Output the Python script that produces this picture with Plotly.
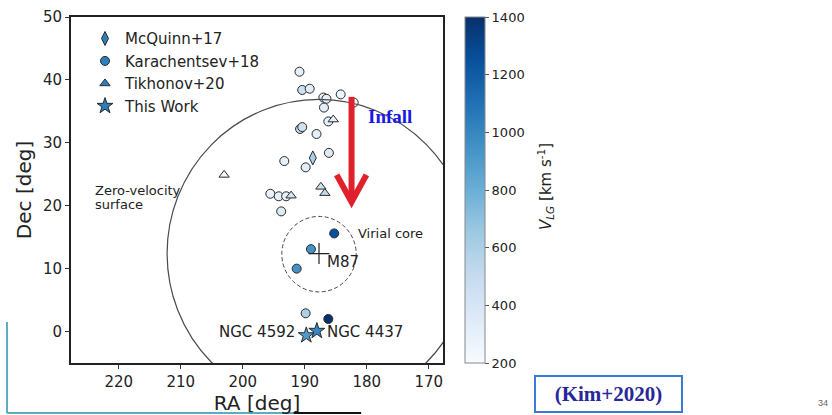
import plotly.graph_objects as go
import plotly.colors as pc

# ---------------- data ----------------
# Karachentsev+18 (circles)
kar_ra  = [190.85, 190.4, 189.2, 187.0, 186.5, 184.2, 182.1, 186.9, 186.2, 190.75, 190.4,
           188.1, 186.1, 193.3, 189.85, 195.55, 194.2, 193.0, 193.8, 185.25, 189.0, 191.3,
           189.85, 186.2]
kar_dec = [41.3, 38.4, 38.6, 37.2, 37.0, 37.7, 36.4, 35.6, 33.4, 32.2, 32.5,
           31.4, 28.4, 27.1, 26.1, 21.9, 21.5, 21.5, 19.1, 15.6, 13.1, 10.0,
           2.9, 2.0]
kar_v   = [300, 450, 330, 300, 300, 260, 260, 320, 300, 500, 450,
           300, 350, 300, 340, 280, 300, 300, 350, 1250, 950, 950,
           600, 1400]

# McQuinn+17 (thin diamonds)
mcq_ra  = [188.7]
mcq_dec = [27.6]
mcq_v   = [600]

# Tikhonov+20 (triangles)
tik_ra  = [185.4, 203.0, 192.2, 187.4, 186.75]
tik_dec = [33.7, 24.9, 21.6, 23.0, 22.0]
tik_v   = [300, 240, 420, 450, 520]

# This Work (stars)
tw_names = ["NGC 4592", "NGC 4437"]
tw_ra    = [189.75, 188.05]
tw_dec   = [-0.6, 0.1]
tw_v     = [900, 1000]

# M87 centre and radii (deg)
m87_ra, m87_dec = 187.7, 12.4
r_zero_vel = 24.5
r_virial = 6.0

# Infall arrow (RA, Dec)
arrow_shaft_ra = [182.45, 182.45]
arrow_shaft_dec = [37.3, 21.0]
arrow_head_ra = [184.85, 182.45, 180.05]
arrow_head_dec = [24.9, 20.6, 24.9]

x_ticks = [220, 210, 200, 190, 180, 170]
y_ticks = [0, 10, 20, 30, 40, 50]
cbar_ticks = [200, 400, 600, 800, 1000, 1200, 1400]

# ---------------- figure ----------------
FONT = "DejaVu Sans"
blues = pc.sequential.Blues
cscale = [[i / (len(blues) - 1), c] for i, c in enumerate(blues)]
edge = dict(color="#2a2a2a", width=1)
legend_blue = "#2f7ebc"

fig = go.Figure()

fig.add_trace(go.Scatter(x=kar_ra, y=kar_dec, mode="markers", showlegend=False,
                         marker=dict(symbol="circle", size=9, color=kar_v,
                                     coloraxis="coloraxis", line=edge)))
fig.add_trace(go.Scatter(x=mcq_ra, y=mcq_dec, mode="markers", showlegend=False,
                         marker=dict(symbol="diamond-tall", size=10, color=mcq_v,
                                     coloraxis="coloraxis", line=edge)))
fig.add_trace(go.Scatter(x=tik_ra, y=tik_dec, mode="markers", showlegend=False,
                         marker=dict(symbol="triangle-up", size=9, color=tik_v,
                                     coloraxis="coloraxis", line=edge)))
fig.add_trace(go.Scatter(x=tw_ra, y=tw_dec, mode="markers", showlegend=False,
                         marker=dict(symbol="star", size=12, color=tw_v,
                                     coloraxis="coloraxis", line=edge)))
# M87 cross
fig.add_trace(go.Scatter(x=[m87_ra], y=[m87_dec], mode="markers", showlegend=False,
                         marker=dict(symbol="cross-thin", size=15,
                                     line=dict(color="#222", width=1.2))))

# legend entries
for name, sym, sz in [("McQuinn+17", "diamond-tall", 10), ("Karachentsev+18", "circle", 9),
                      ("Tikhonov+20", "triangle-up", 9), ("This Work", "star", 12)]:
    fig.add_trace(go.Scatter(x=[None], y=[None], mode="markers", name=name,
                             marker=dict(symbol=sym, size=sz, color=legend_blue, line=edge)))

shapes = [
    dict(type="circle", xref="x", yref="y",
         x0=m87_ra - r_zero_vel, x1=m87_ra + r_zero_vel,
         y0=m87_dec - r_zero_vel, y1=m87_dec + r_zero_vel,
         line=dict(color="#4a4a4a", width=1.2)),
    dict(type="circle", xref="x", yref="y",
         x0=m87_ra - r_virial, x1=m87_ra + r_virial,
         y0=m87_dec - 0.1 - r_virial, y1=m87_dec - 0.1 + r_virial,
         line=dict(color="#444", width=1, dash="4px,2.5px")),
    dict(type="line", xref="x", yref="y",
         x0=arrow_shaft_ra[0], x1=arrow_shaft_ra[1],
         y0=arrow_shaft_dec[0], y1=arrow_shaft_dec[1],
         line=dict(color="#e0202b", width=6)),
    dict(type="path", xref="x", yref="y",
         path="M {} {} L {} {} L {} {}".format(arrow_head_ra[0], arrow_head_dec[0],
                                               arrow_head_ra[1], arrow_head_dec[1],
                                               arrow_head_ra[2], arrow_head_dec[2]),
         line=dict(color="#e0202b", width=6)),
    # slide decorations
    dict(type="line", xref="paper", yref="paper", x0=-0.172, x1=-0.172, y0=0.1185, y1=-0.1445,
         line=dict(color="#5aaec4", width=2)),
    dict(type="line", xref="paper", yref="paper", x0=-0.172, x1=0.598, y0=-0.1445, y1=-0.1445,
         line=dict(color="#5aaec4", width=2)),
    dict(type="line", xref="paper", yref="paper", x0=0.598, x1=0.78, y0=-0.1445, y1=-0.1445,
         line=dict(color="#111", width=2)),
]

ann = [
    dict(x=186.75, y=11.0, text="M87", xanchor="left", yanchor="middle", showarrow=False,
         font=dict(family=FONT, size=15, color="#222")),
    dict(x=181.8, y=15.6, text="Virial core", xanchor="left", yanchor="middle", showarrow=False,
         font=dict(family=FONT, size=13, color="#222")),
    dict(x=224.2, y=22.35, text="Zero-velocity", xanchor="left", yanchor="middle", showarrow=False,
         font=dict(family=FONT, size=13, color="#222")),
    dict(x=224.2, y=20.2, text="surface", xanchor="left", yanchor="middle", showarrow=False,
         font=dict(family=FONT, size=13, color="#222")),
    dict(x=191.3, y=-0.05, text=tw_names[0], xanchor="right", yanchor="middle", showarrow=False,
         font=dict(family=FONT, size=15, color="#222")),
    dict(x=186.75, y=-0.05, text=tw_names[1], xanchor="left", yanchor="middle", showarrow=False,
         font=dict(family=FONT, size=15, color="#222")),
    dict(x=180.1, y=34.2, text="<b>Infall</b>", xanchor="left", yanchor="middle", showarrow=False,
         font=dict(family="Liberation Serif", size=19, color="#1818e8")),
    dict(xref="paper", yref="paper", x=(545 - 71) / 372, y=1 - (187 - 17) / 346,
         text="<i>V</i><sub><i>LG</i></sub> [km s<sup>-1</sup>]", textangle=-90,
         xanchor="center", yanchor="middle", showarrow=False,
         font=dict(family=FONT, size=15, color="#222")),
    dict(xref="paper", yref="paper", x=(608.5 - 71) / 372, y=1 - (394 - 17) / 346,
         text="<b>(Kim+2020)</b>", xanchor="center", yanchor="middle", showarrow=False,
         width=141, height=30, borderpad=2, borderwidth=2, bordercolor="#3b7ad6",
         font=dict(family="Liberation Serif", size=21, color="#27279a")),
    dict(xref="paper", yref="paper", x=(823 - 71) / 372, y=1 - (403 - 17) / 346,
         text="34", xanchor="center", yanchor="middle", showarrow=False,
         font=dict(family="Liberation Sans", size=9, color="#666")),
]

axis_common = dict(showgrid=False, zeroline=False, showline=True, mirror=True,
                   linecolor="#222", linewidth=2, ticks="outside", ticklen=4,
                   tickwidth=1, tickcolor="#333",
                   tickfont=dict(family=FONT, size=15, color="#222"))

fig.update_layout(
    width=832, height=415,
    margin=dict(l=71, r=389, t=17, b=52, autoexpand=False),
    paper_bgcolor="white", plot_bgcolor="white",
    font=dict(family=FONT, color="#222"),
    xaxis=dict(range=[227.7, 167.7], tickvals=x_ticks,
               title=dict(text="RA [deg]", font=dict(family=FONT, size=20), standoff=2),
               **axis_common),
    yaxis=dict(range=[-5, 50], tickvals=y_ticks,
               title=dict(text="Dec [deg]", font=dict(family=FONT, size=20), standoff=6),
               **axis_common),
    coloraxis=dict(colorscale=cscale, cmin=200, cmax=1400,
                   colorbar=dict(x=(465 - 71) / 372, xanchor="left", xpad=0, ypad=0,
                                 y=0.5, yanchor="middle", len=1, lenmode="fraction",
                                 thickness=20, outlinecolor="#888", outlinewidth=1,
                                 ticks="outside", ticklen=4, tickcolor="#555",
                                 tickvals=cbar_ticks,
                                 tickfont=dict(family=FONT, size=13, color="#222"))),
    legend=dict(x=(85 - 71) / 372, y=0.985, xanchor="left", yanchor="top",
                bgcolor="rgba(0,0,0,0)", borderwidth=0,
                font=dict(family=FONT, size=15, color="#222")),
    shapes=shapes, annotations=ann,
)

fig.write_html("out.html", config={"displayModeBar": False},
               post_script="document.body.style.margin='0';document.body.style.overflow='hidden';")
